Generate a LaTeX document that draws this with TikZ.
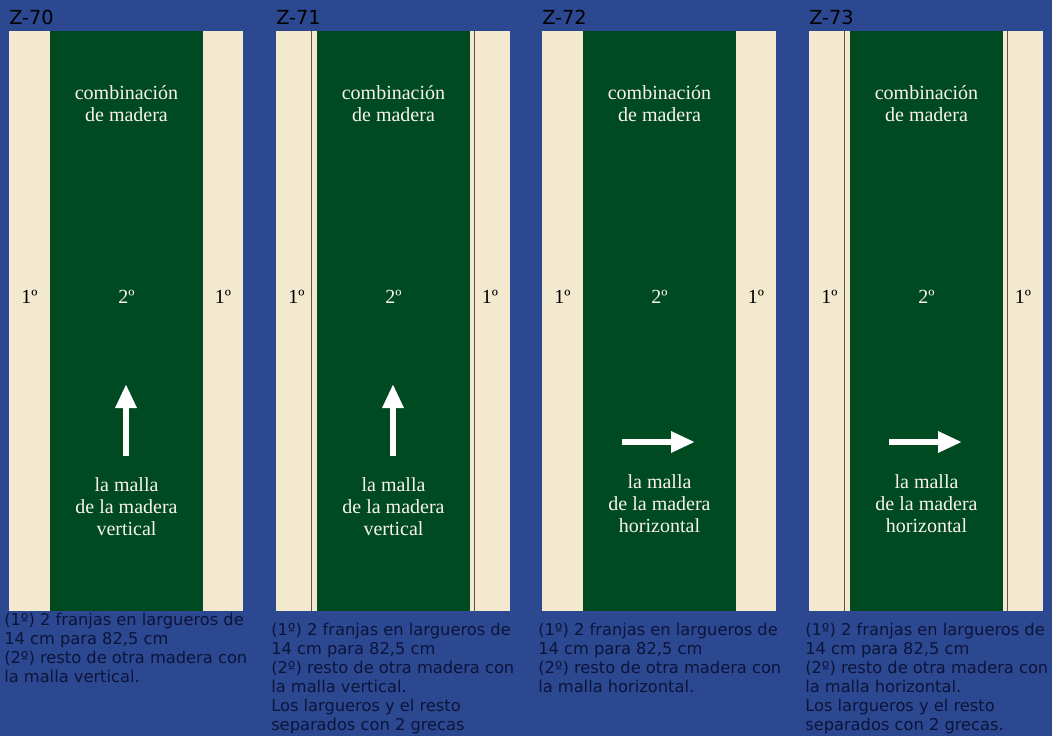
\documentclass[tikz,border=0pt]{standalone}
\usepackage{fontspec}
\setmainfont{Liberation Serif}
\setsansfont{DejaVu Sans}
\usetikzlibrary{arrows.meta,positioning}
\definecolor{bgblue}{RGB}{44,72,145}
\definecolor{woodgreen}{RGB}{0,74,34}
\definecolor{cream}{RGB}{242,233,206}
\definecolor{navytext}{RGB}{12,20,58}
\definecolor{grecaline}{RGB}{95,85,65}
\tikzset{
  stripbox/.style={fill=cream, draw=none},
  corebox/.style={fill=woodgreen, draw=none},
  grecaline/.style={draw=grecaline, line width=1.1pt},
  woodtext/.style={
    font=\fontsize{15}{16.5}\selectfont, text=cream!50!white,
    align=center, inner sep=0pt
  },
  striptext/.style={
    font=\fontsize{15}{16.5}\selectfont, text=black, anchor=base, inner sep=0pt
  },
  paneltitle/.style={
    font=\sffamily\fontsize{14.5}{17}\selectfont, text=black,
    anchor=base west, inner sep=0pt
  },
  desctext/.style={
    font=\sffamily\fontsize{12.2}{14.25}\selectfont, text=navytext,
    align=left, anchor=north west, inner sep=0pt
  },
  grainarrow/.style={
    -{Triangle[length=18pt,width=15pt]}, line width=5pt, draw=white
  },
}

\begin{document}
\begin{tikzpicture}[x=0.75pt, y=-0.75pt]
  \fill[bgblue] (0,0) rectangle (1052,736);
  \useasboundingbox (0,0) rectangle (1052,736);

  % one panel per door model: x offset / name / grecas / grain (0 vertical, 1 horizontal)
  \foreach \px/\name/\hasgreca/\grain [count=\i] in
      {9/Z-70/0/0, 276/Z-71/1/0, 542/Z-72/0/1, 809/Z-73/1/1} {
    \node[paneltitle] (title\i) at (\px,24) {\name};
    \fill[stripbox] (\px,31) rectangle ++(234,580);
    \fill[corebox] (\px+41,31) rectangle (\px+194,611);
    \ifnum\hasgreca=1
      \draw[grecaline] (\px+35.5,31) -- (\px+35.5,611);
      \draw[grecaline] (\px+198.5,31) -- (\px+198.5,611);
    \fi
    \node[woodtext, anchor=north] (combo\i) at (\px+117.5,85.5)
      {combinación\\de madera};
    \node[striptext] (left\i)  at (\px+20.5,303) {1º};
    \node[striptext] (right\i) at (\px+214,303) {1º};
    \node[woodtext, anchor=base] (core\i) at (\px+117.5,303) {2º};
    \ifnum\grain=0
      \coordinate (tail\i) at (\px+117,456);
      \coordinate (tip\i)  at (\px+117,384);
      \node[woodtext, anchor=north] (grain\i) at (\px+117.5,477)
        {la malla\\de la madera\\vertical};
    \else
      \coordinate (tail\i) at (\px+80,442);
      \coordinate (tip\i)  at (\px+153,442);
      \node[woodtext, anchor=north] (grain\i) at (\px+117.5,474)
        {la malla\\de la madera\\horizontal};
    \fi
    \draw[grainarrow] (tail\i) -- (tip\i);
  }

  % descriptions under the panels
  \node[desctext] (desc1) at (4,613)
    {(1º) 2 franjas en largueros de\\14 cm para 82,5 cm\\(2º) resto de otra madera con\\la malla vertical.};
  \node[desctext] (desc2) at (271,623)
    {(1º) 2 franjas en largueros de\\14 cm para 82,5 cm\\(2º) resto de otra madera con\\la malla vertical.\\Los largueros y el resto\\separados con 2 grecas};
  \node[desctext] (desc3) at (538,623)
    {(1º) 2 franjas en largueros de\\14 cm para 82,5 cm\\(2º) resto de otra madera con\\la malla horizontal.};
  \node[desctext] (desc4) at (805,623)
    {(1º) 2 franjas en largueros de\\14 cm para 82,5 cm\\(2º) resto de otra madera con\\la malla horizontal.\\Los largueros y el resto\\separados con 2 grecas.};
\end{tikzpicture}
\end{document}
